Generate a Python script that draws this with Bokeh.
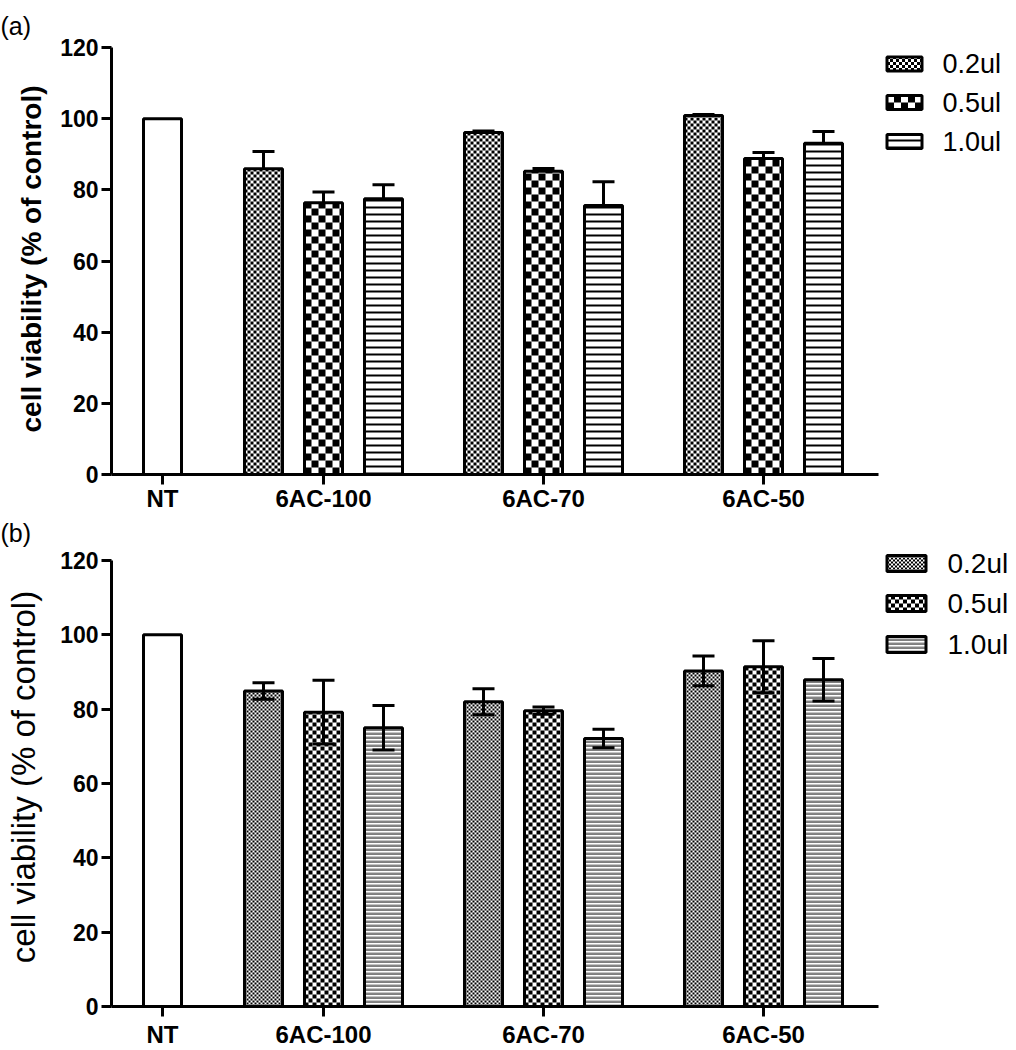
import numpy as np
from bokeh.plotting import figure
from bokeh.layouts import column
from bokeh.models import Range1d, FixedTicker, Whisker, TeeHead, ColumnDataSource
from bokeh.core.properties import value
from bokeh.embed import file_html
from bokeh.resources import INLINE

# ---------------- data ----------------
categories = ["NT", "6AC-100", "6AC-70", "6AC-50"]
doses = ["0.2ul", "0.5ul", "1.0ul"]
yticks = [0, 20, 40, 60, 80, 100, 120]

nt_a = 100.0
a_02 = [85.9, 96.1, 100.9]
a_02_err = [4.9, 0.4, 0.3]
a_05 = [76.4, 85.2, 88.8]
a_05_err = [3.0, 0.8, 1.7]
a_10 = [77.5, 75.6, 93.1]
a_10_err = [3.9, 6.7, 3.3]

nt_b = 100.0
b_02 = [84.9, 82.0, 90.3]
b_02_err = [2.2, 3.5, 4.0]
b_05 = [79.2, 79.6, 91.4]
b_05_err = [8.6, 1.0, 7.0]
b_10 = [75.0, 72.1, 87.9]
b_10_err = [6.0, 2.5, 5.7]

FONT = "Liberation Sans"

# pattern styles: ("checker", cell px) or ("lines", period px, [(row offset, thickness, colour)])
styles_a = [("checker", 3), ("checker", 7), ("lines", 7, [(0, 2, "black")])]
styles_b = [("checker", 2), ("checker", 4), ("lines", 4, [(0, 1, "black"), (1, 1, "#8c8c8c")])]


def pattern_cells(style, w, h):
    """Return local pixel quads (l, r, b, t, colour) that fill a w x h box."""
    if style[0] == "checker":
        c = style[1]
        nx = int(np.ceil(w / c))
        ny = int(np.ceil(h / c))
        I, J = np.meshgrid(np.arange(nx), np.arange(ny))
        m = (I + J) % 2 == 0
        l = I[m] * c
        b = J[m] * c
        r = np.minimum(l + c, w)
        t = np.minimum(b + c, h)
        return l, r, b, t, ["black"] * len(l)
    period, rows = style[1], style[2]
    L, R, B, T, C = [], [], [], [], []
    for off, th, colr in rows:
        for bb in np.arange(off, h, period):
            L.append(0); R.append(w); B.append(bb); T.append(min(bb + th, h)); C.append(colr)
    return np.array(L), np.array(R), np.array(B), np.array(T), C


def make_panel(label, nt, vals, errs, styles, ylabel_style, ylabel_size, ylabel_standoff,
               h120, pad_top, top_border, title_standoff, title_valign, xlabel_standoff,
               both_sides, legend_rows, sw_w, sw_h, text_x, legend_font):
    # h120: pixel height of the 0..120 span; pad_top: extra pixels above 120 (legend room)
    centers = np.array([51.0, 212.0, 432.0, 652.0])
    offsets = np.array([-60.0, 0.0, 60.0])
    bar_w = 38
    axis_w = 767
    frame_w = 897
    scale = h120 / 120.0
    frame_h = h120 + pad_top
    y_end = frame_h / scale

    p = figure(frame_width=frame_w, frame_height=frame_h,
               x_range=Range1d(0, frame_w), y_range=Range1d(0, y_end),
               min_border_left=111, min_border_top=top_border, min_border_right=0,
               min_border_bottom=0, toolbar_location=None, output_backend="svg",
               outline_line_color=None, background_fill_color="white",
               border_fill_color="white")
    p.grid.visible = False

    p.title.text = label
    p.title.text_font = FONT
    p.title.text_font_size = "25px"
    p.title.text_font_style = "normal"
    p.title.text_color = "black"
    p.title.align = "left"
    p.title.offset = -111
    p.title.standoff = title_standoff
    p.title.vertical_align = title_valign

    # NT bar
    p.vbar(x=[centers[0]], top=[nt], width=bar_w, bottom=0, fill_color="white",
           line_color="black", line_width=3)

    lx0 = 886.5 - 111  # legend swatch left, in frame pixels
    for i, d in enumerate(doses):
        xs = centers[1:] + offsets[i]
        top = np.array(vals[i])
        err = np.array(errs[i])
        L, R, B, T, C = [], [], [], [], []
        for xc, tv in zip(xs, top):
            l, r, b, t, col = pattern_cells(styles[i], bar_w, int(round(tv * scale)))
            x0 = xc - bar_w / 2
            L.extend(x0 + l); R.extend(x0 + r)
            B.extend(b / scale); T.extend(t / scale); C.extend(col)
        # legend swatch pattern (pixels measured down from the frame top)
        yc = legend_rows[i]
        sb = (frame_h - yc - sw_h / 2) / scale
        l, r, b, t, col = pattern_cells(styles[i], sw_w, sw_h)
        L.extend(lx0 + l); R.extend(lx0 + r)
        B.extend(sb + b / scale); T.extend(sb + t / scale); C.extend(col)

        p.vbar(x=xs, top=top, width=bar_w, bottom=0, fill_color="white", line_color=None)
        p.quad(left=L, right=R, bottom=B, top=T, fill_color=C, line_color=None)
        src = ColumnDataSource(dict(x=xs, top=top, up=top + err,
                                    lo=(top - err) if both_sides else top))
        p.vbar(x="x", top="top", width=bar_w, bottom=0, source=src,
               fill_color=None, line_color="black", line_width=3)
        p.quad(left=[lx0], right=[lx0 + sw_w], bottom=[sb], top=[sb + sw_h / scale],
               fill_color=None, line_color="black", line_width=3)
        p.text(x=[text_x - 111], y=[(frame_h - yc) / scale], text=[d], text_font=value(FONT),
               text_font_size=legend_font, text_baseline="middle", text_align="left",
               text_color="black")
        w = Whisker(base="x", upper="up", lower="lo", source=src, line_width=3,
                    line_color="black", level="annotation",
                    upper_head=TeeHead(size=22, line_width=3, line_color="black"),
                    lower_head=TeeHead(size=22, line_width=3, line_color="black") if both_sides else None)
        p.add_layout(w)

    # axes
    for ax in (p.xaxis[0], p.yaxis[0]):
        ax.axis_line_width = 3
        ax.major_tick_line_width = 3
        ax.major_tick_out = 10
        ax.major_tick_in = 0
        ax.minor_tick_line_color = None
        ax.major_label_text_font = FONT
        ax.major_label_text_font_style = "bold"
        ax.major_label_text_color = "black"
        ax.axis_line_color = "black"
        ax.major_tick_line_color = "black"

    p.yaxis.ticker = FixedTicker(ticks=yticks)
    p.yaxis.bounds = (0, 120)
    p.yaxis.major_label_text_font_size = "23px"
    p.yaxis.major_label_standoff = 3
    p.yaxis.axis_label = "cell viability (% of control)"
    p.yaxis.axis_label_text_font = FONT
    p.yaxis.axis_label_text_font_style = ylabel_style
    p.yaxis.axis_label_text_font_size = ylabel_size
    p.yaxis.axis_label_standoff = ylabel_standoff
    p.yaxis.axis_label_text_color = "black"

    p.xaxis.ticker = FixedTicker(ticks=list(centers))
    p.xaxis.bounds = (0, axis_w)
    p.xaxis.major_label_overrides = {float(c): n for c, n in zip(centers, categories)}
    p.xaxis.major_label_text_font_size = "24px"
    p.xaxis.major_label_standoff = xlabel_standoff
    return p


# (a): frame top at 43, y=120 at 47, y=0 at 474
pa = make_panel("(a)", nt_a, [a_02, a_05, a_10], [a_02_err, a_05_err, a_10_err], styles_a,
                "bold", "28px", 10, 427, 4, 43, 4, "top", 0, False,
                [63.5 - 43, 102 - 43, 141 - 43], 35, 14, 942, "27px")
# (b): figure top ~514, frame top 547, y=120 at 560, y=0 at 1006
pb = make_panel("(b)", nt_b, [b_02, b_05, b_10], [b_02_err, b_05_err, b_10_err], styles_b,
                "normal", "33px", 15, 446, 13, 33, 2, "bottom", 4, True,
                [563 - 547, 603 - 547, 644 - 547], 39, 16, 947, "28px")

layout = column(pa, pb)
open("out.html", "w").write(file_html(layout, INLINE))
